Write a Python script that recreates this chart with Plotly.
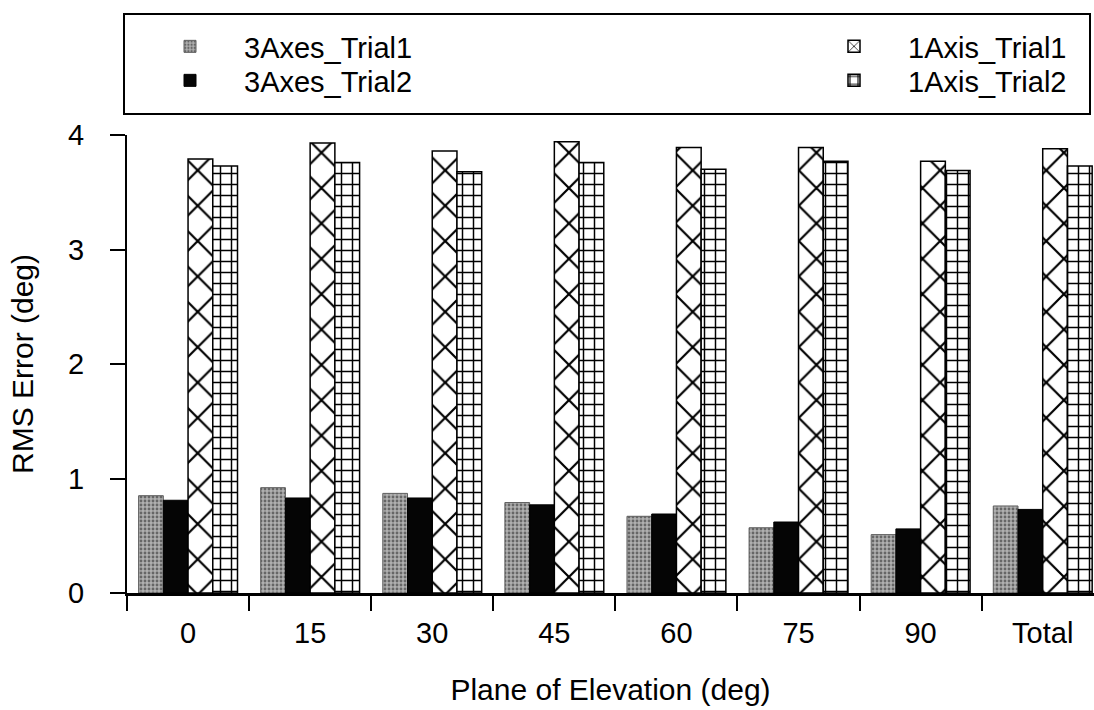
import plotly.graph_objects as go

categories = ["0", "15", "30", "45", "60", "75", "90", "Total"]
axes3_trial1 = [0.85, 0.92, 0.87, 0.79, 0.67, 0.57, 0.51, 0.76]
axes3_trial2 = [0.81, 0.83, 0.83, 0.77, 0.69, 0.62, 0.56, 0.73]
axis1_trial1 = [3.79, 3.93, 3.86, 3.94, 3.89, 3.89, 3.77, 3.88]
axis1_trial2 = [3.73, 3.76, 3.68, 3.76, 3.70, 3.77, 3.69, 3.73]
y_ticks = [0, 1, 2, 3, 4]

W, H = 1094, 710
L, R, T, B = 127, 0, 135, 117
pw, ph = W - L - R, H - T - B


def px_x(p):
    return (p - L) / pw


def px_y(p):
    return (H - B - p) / ph


FONT = "Liberation Sans, Arial, sans-serif"

fig = go.Figure()
fig.add_trace(go.Bar(
    x=categories, y=axes3_trial1, name="3Axes_Trial1", legend="legend",
    marker=dict(color="#9c9c9c", line=dict(color="#5e5e5e", width=1),
                pattern=dict(shape=".", fgcolor="#666666", bgcolor="#b0b0b0",
                             size=4, solidity=0.4, fillmode="replace")),
))
fig.add_trace(go.Bar(
    x=categories, y=axes3_trial2, name="3Axes_Trial2", legend="legend2",
    marker=dict(color="#050505", line=dict(color="#000000", width=1)),
))
fig.add_trace(go.Bar(
    x=categories, y=axis1_trial1, name="1Axis_Trial1", legend="legend3",
    marker=dict(color="#ffffff", line=dict(color="#000000", width=1.5),
                pattern=dict(shape="x", fgcolor="#000000", bgcolor="#ffffff",
                             size=25, solidity=0.17, fillmode="replace")),
))
fig.add_trace(go.Bar(
    x=categories, y=axis1_trial2, name="1Axis_Trial2", legend="legend4",
    marker=dict(color="#ffffff", line=dict(color="#000000", width=1.5),
                pattern=dict(shape="+", fgcolor="#000000", bgcolor="#ffffff",
                             size=11, solidity=0.25, fillmode="replace")),
))

legend_common = dict(
    orientation="v", xanchor="left", yanchor="top",
    bgcolor="rgba(0,0,0,0)", borderwidth=0,
    font=dict(family=FONT, size=29, color="#000000"),
    itemwidth=98, tracegroupgap=0, traceorder="normal",
)

fig.update_layout(
    width=W, height=H,
    margin=dict(l=L, r=R, t=T, b=B, pad=0),
    paper_bgcolor="#ffffff", plot_bgcolor="#ffffff",
    font=dict(family=FONT, size=29, color="#000000"),
    barmode="group", bargap=0.19, bargroupgap=0,
    showlegend=True,
    legend=dict(x=px_x(136), y=px_y(21), **legend_common),
    legend2=dict(x=px_x(136), y=px_y(55), **legend_common),
    legend3=dict(x=px_x(800), y=px_y(21), **legend_common),
    legend4=dict(x=px_x(800), y=px_y(55), **legend_common),
    xaxis=dict(
        type="category", range=[-0.5, 7.42], tickson="boundaries",
        ticks="outside", ticklen=15, tickwidth=1.5, tickcolor="#000000",
        showline=True, linecolor="#000000", linewidth=2.5,
        showgrid=False, zeroline=False, automargin=False,
        tickfont=dict(family=FONT, size=29, color="#000000"),
        ticklabelstandoff=12,
        title=dict(text="Plane of Elevation (deg)", standoff=32,
                   font=dict(family=FONT, size=30, color="#000000")),
    ),
    yaxis=dict(
        range=[0, 4], tickvals=y_ticks, ticktext=[str(v) for v in y_ticks],
        ticks="outside", ticklen=15, tickwidth=1.5, tickcolor="#000000",
        showline=True, linecolor="#000000", linewidth=2,
        showgrid=False, zeroline=False, automargin=False,
        tickfont=dict(family=FONT, size=29, color="#000000"),
        ticklabelstandoff=20,
        title=dict(text="RMS Error (deg)", standoff=26,
                   font=dict(family=FONT, size=30, color="#000000")),
    ),
    shapes=[dict(
        type="rect", xref="paper", yref="paper",
        x0=px_x(124), x1=px_x(1090), y0=px_y(114), y1=px_y(14),
        line=dict(color="#000000", width=2), fillcolor="rgba(0,0,0,0)",
        layer="above",
    )],
)

fig.write_html("out.html")
